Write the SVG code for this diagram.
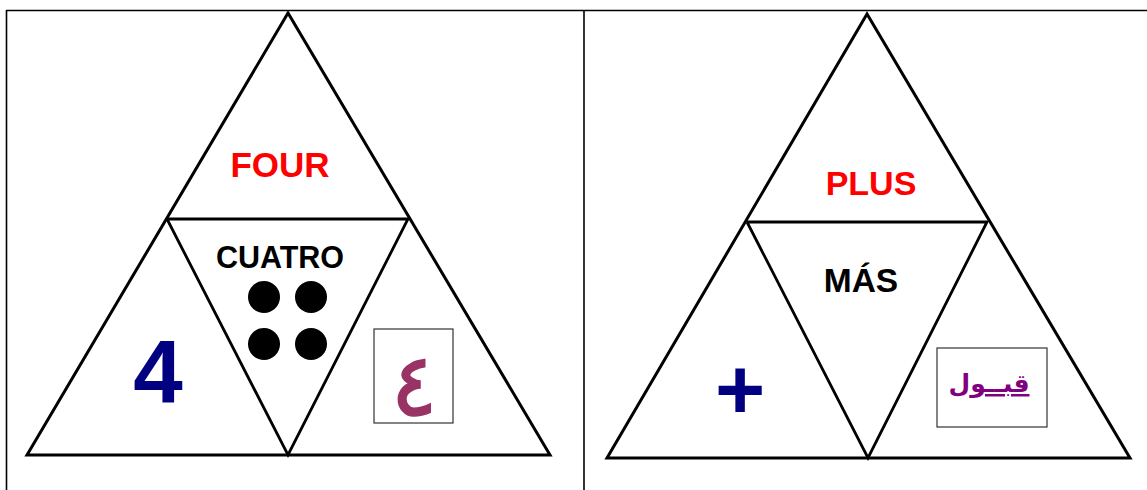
<svg xmlns="http://www.w3.org/2000/svg" width="1147" height="490" viewBox="0 0 1147 490">
<style>
.frame{stroke:#000;stroke-width:1.6;fill:none}
.tri{stroke:#000;stroke-width:3;fill:none;stroke-linejoin:miter}
.inner{stroke:#000;stroke-width:2.8;fill:none}
.lbl{font-family:"Liberation Sans",Arial,sans-serif;font-weight:bold;text-anchor:middle}
.red{fill:#ff0000}
.blk{fill:#000}
.navy{fill:#000080}
.box{fill:#fff;stroke:#333;stroke-width:1.2}
</style>
<rect width="1147" height="490" fill="#fff"/>
<g id="frame">
<line class="frame" x1="6" y1="10.5" x2="1147" y2="10.5"/>
<line class="frame" x1="6.5" y1="10" x2="6.5" y2="490"/>
<line class="frame" x1="584" y1="10" x2="584" y2="490"/>
</g>
<g id="left-triangle">
<polygon class="tri" points="288,13 27,455 550,455"/>
<polyline class="inner" points="167,219 408,219 288,455 167,219"/>
</g>
<g id="right-triangle">
<polygon class="tri" points="867,14 607,458 1130,458"/>
<polyline class="inner" points="747,222 987,222 868,458 747,222"/>
</g>
<g id="four">
<text class="lbl red" x="280" y="177" font-size="35">FOUR</text>
</g>
<g id="cuatro">
<text class="lbl blk" x="280" y="268" font-size="30.5">CUATRO</text>
<circle cx="264" cy="297" r="16" fill="#000"/>
<circle cx="311" cy="297" r="16" fill="#000"/>
<circle cx="264" cy="344" r="16" fill="#000"/>
<circle cx="311" cy="344" r="16" fill="#000"/>
</g>
<g id="digit-four">
<text class="lbl navy" x="158" y="403" font-size="89">4</text>
</g>
<g id="arabic-four">
<rect class="box" x="374" y="329" width="79" height="94"/>
<text x="414" y="415" font-family="'DejaVu Sans',sans-serif" font-size="86" fill="#993366" stroke="#993366" stroke-width="1.5" text-anchor="middle">٤</text>
</g>
<g id="plus">
<text class="lbl red" x="871" y="195" font-size="34">PLUS</text>
</g>
<g id="mas">
<text class="lbl blk" x="861" y="292" font-size="33.5">MÁS</text>
</g>
<g id="plus-sign">
<text class="lbl navy" x="740" y="419" font-size="86">+</text>
</g>
<g id="arabic-plus">
<rect class="box" x="937" y="348" width="110" height="79"/>
<text x="989" y="392" font-family="'DejaVu Sans',sans-serif" font-weight="bold" font-size="25" fill="#800080" text-anchor="middle" text-decoration="underline" direction="rtl">قبــول</text>
</g>
</svg>
